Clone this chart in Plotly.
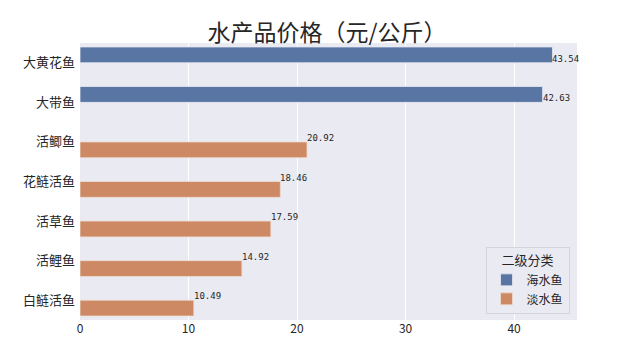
import plotly.graph_objects as go

categories = ["大黄花鱼", "大带鱼", "活鲫鱼", "花鲢活鱼", "活草鱼", "活鲤鱼", "白鲢活鱼"]
sea_names = ["大黄花鱼", "大带鱼"]
sea_values = [43.54, 42.63]
fresh_names = ["活鲫鱼", "花鲢活鱼", "活草鱼", "活鲤鱼", "白鲢活鱼"]
fresh_values = [20.92, 18.46, 17.59, 14.92, 10.49]
x_ticks = [0, 10, 20, 30, 40]

FONT = "Noto Sans CJK SC"
TXT = "#262626"

fig = go.Figure()
fig.add_trace(go.Bar(
    y=sea_names, x=sea_values, orientation="h", name="海水鱼",
    width=0.4, offset=-0.4,
    marker=dict(color="#5875A4", line=dict(color="#e8eaf2", width=0.8)),
))
fig.add_trace(go.Bar(
    y=fresh_names, x=fresh_values, orientation="h", name="淡水鱼",
    width=0.4, offset=0.0,
    marker=dict(color="#CC8963", line=dict(color="#f0dcd2", width=0.8)),
))

annotations = []
for n, v in list(zip(sea_names, sea_values)) + list(zip(fresh_names, fresh_values)):
    annotations.append(dict(
        x=v, y=n, xref="x", yref="y", text=f"{v:.2f}", showarrow=False,
        xanchor="left", yanchor="bottom", xshift=-2, yshift=-3,
        font=dict(family="DejaVu Sans Mono", size=9, color=TXT),
    ))

fig.update_layout(
    width=641, height=361,
    margin=dict(l=80, r=64, t=43, b=41, autoexpand=False),
    paper_bgcolor="white", plot_bgcolor="#EAEAF2",
    barmode="overlay",
    title=dict(text="水产品价格（元/公斤）", x=0.51, xanchor="center",
               y=0.91, yanchor="middle",
               font=dict(family=FONT, size=23, color=TXT)),
    font=dict(family=FONT, color=TXT),
    xaxis=dict(range=[0, 45.8], tickvals=x_ticks, showgrid=True,
               gridcolor="white", gridwidth=1, zeroline=False, automargin=False,
               ticks="", tickfont=dict(size=12, color=TXT), showline=False),
    yaxis=dict(categoryorder="array", categoryarray=categories,
               range=[6.5, -0.5], showgrid=False, zeroline=False, ticks="",
               ticklabelstandoff=4, automargin=False,
               tickfont=dict(size=13, color=TXT), showline=False),
    legend=dict(
        title=dict(text="二级分类", side="top center",
                   font=dict(size=13, color=TXT)),
        x=0.985, xanchor="right", y=0.02, yanchor="bottom",
        bgcolor="#EAEAF2", bordercolor="#d4d4dc", borderwidth=1,
        font=dict(size=12, color=TXT), tracegroupgap=0,
        itemwidth=30,
    ),
    annotations=annotations,
)

fig.write_html("out.html", config={"displayModeBar": False},
               post_script="document.body.style.margin='0';document.body.style.padding='0';")
